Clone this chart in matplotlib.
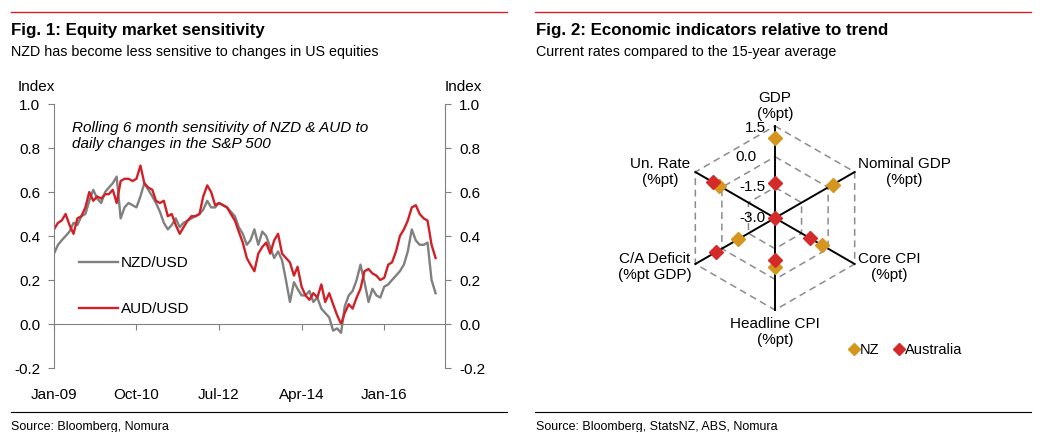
import numpy as np
import pandas as pd
import matplotlib
matplotlib.use("Agg")
import matplotlib.pyplot as plt
import matplotlib.dates as mdates
from matplotlib.lines import Line2D

plt.rcParams['font.family'] = ['Liberation Sans', 'DejaVu Sans']

# ---------------- data ----------------
start_month = '2009-01-01'
nzd_usd = [0.32, 0.36, 0.38, 0.40, 0.42, 0.46, 0.45, 0.49, 0.50, 0.56,
           0.61, 0.57, 0.55, 0.60, 0.62, 0.64, 0.67, 0.48, 0.53, 0.55,
           0.54, 0.53, 0.58, 0.64, 0.61, 0.58, 0.55, 0.51, 0.46, 0.43,
           0.45, 0.48, 0.44, 0.46, 0.47, 0.48, 0.49, 0.50, 0.52, 0.56,
           0.53, 0.53, 0.55, 0.54, 0.53, 0.51, 0.49, 0.44, 0.41, 0.36,
           0.38, 0.43, 0.36, 0.42, 0.40, 0.35, 0.30, 0.33, 0.29, 0.20,
           0.10, 0.19, 0.16, 0.13, 0.13, 0.15, 0.10, 0.12, 0.07, 0.05,
           0.03, -0.03, -0.02, -0.04, 0.08, 0.13, 0.15, 0.20, 0.27, 0.19,
           0.10, 0.16, 0.13, 0.12, 0.17, 0.18, 0.20, 0.22, 0.24, 0.27,
           0.33, 0.43, 0.38, 0.36, 0.36, 0.37, 0.20, 0.14]
aud_usd = [0.43, 0.46, 0.47, 0.50, 0.45, 0.41, 0.48, 0.49, 0.53, 0.60,
           0.56, 0.58, 0.57, 0.59, 0.59, 0.61, 0.55, 0.65, 0.66, 0.66,
           0.65, 0.66, 0.72, 0.64, 0.62, 0.61, 0.56, 0.55, 0.56, 0.49,
           0.50, 0.45, 0.41, 0.44, 0.47, 0.49, 0.49, 0.50, 0.58, 0.63,
           0.60, 0.54, 0.55, 0.54, 0.53, 0.50, 0.47, 0.42, 0.37, 0.30,
           0.27, 0.24, 0.32, 0.35, 0.37, 0.32, 0.38, 0.41, 0.32, 0.30,
           0.28, 0.22, 0.26, 0.17, 0.13, 0.11, 0.14, 0.12, 0.18, 0.10,
           0.14, 0.09, 0.04, 0.00, 0.05, 0.09, 0.07, 0.12, 0.16, 0.24,
           0.25, 0.23, 0.22, 0.20, 0.21, 0.27, 0.28, 0.33, 0.40, 0.43,
           0.47, 0.53, 0.54, 0.50, 0.48, 0.47, 0.36, 0.30]
xtick_dates = ['2009-01-01', '2010-10-01', '2012-07-01', '2014-04-01', '2016-01-01']
yticks_left = [-0.2, 0.0, 0.2, 0.4, 0.6, 0.8, 1.0]

radar_axes = ['GDP\n(%pt)', 'Nominal GDP\n(%pt)', 'Core CPI\n(%pt)',
              'Headline CPI\n(%pt)', 'C/A Deficit\n(%pt GDP)', 'Un. Rate\n(%pt)']
radar_nz = [0.9, 0.25, -0.35, -0.6, -0.9, 0.15]
radar_au = [-1.3, -3.0, -1.05, -0.95, 0.35, 0.5]
radar_ticks = [-3.0, -1.5, 0.0, 1.5]

# ---------------- style ----------------
W, H = 1047, 432
RED = '#d22027'
GREY = '#808080'
GOLD = '#d4961e'
AURED = '#d42a2a'


def fx(x):
    return x / W


def fy(y):
    return 1 - y / H


fig = plt.figure(figsize=(W / 100, H / 100), dpi=100)

# top red rules and bottom black rules
for x0, x1 in [(11, 507), (535, 1031)]:
    fig.add_artist(Line2D([fx(x0), fx(x1)], [fy(12), fy(12)], color=RED, lw=1.0))
    fig.add_artist(Line2D([fx(x0), fx(x1)], [fy(412), fy(412)], color='black', lw=0.8))

# titles
fig.text(fx(11), fy(30), 'Fig. 1: Equity market sensitivity', fontsize=12.2,
         fontweight='bold', va='center', ha='left')
fig.text(fx(11), fy(52), 'NZD has become less sensitive to changes in US equities',
         fontsize=10.3, va='center', ha='left')
fig.text(fx(536), fy(30), 'Fig. 2: Economic indicators relative to trend', fontsize=12.2,
         fontweight='bold', va='center', ha='left')
fig.text(fx(536), fy(52), 'Current rates compared to the 15-year average',
         fontsize=10.3, va='center', ha='left')
fig.text(fx(11), fy(427), 'Source: Bloomberg, Nomura', fontsize=9, va='center', ha='left')
fig.text(fx(536), fy(427), 'Source: Bloomberg, StatsNZ, ABS, Nomura', fontsize=9,
         va='center', ha='left')

# ---------------- left chart ----------------
dates = pd.date_range(start_month, periods=len(nzd_usd), freq='MS')
ax = fig.add_axes([fx(54), fy(368), fx(445) - fx(54), fy(104) - fy(368)])
ax.plot(dates, nzd_usd, color=GREY, lw=1.7, label='NZD/USD')
ax.plot(dates, aud_usd, color=RED, lw=1.7, label='AUD/USD')
ax.set_ylim(-0.2, 1.0)
ax.set_xlim(pd.Timestamp('2009-01-01'), pd.Timestamp('2017-04-15'))
ax.set_yticks(yticks_left)
ax.set_yticklabels([f'{v:.1f}' for v in yticks_left])
ax.set_xticks(pd.to_datetime(xtick_dates))
ax.xaxis.set_major_formatter(mdates.DateFormatter('%b-%y'))
for s in ['top', 'right']:
    ax.spines[s].set_visible(False)
ax.spines['left'].set_color(GREY)
ax.spines['bottom'].set_color(GREY)
ax.spines['bottom'].set_position(('data', 0))
ax.tick_params(axis='y', direction='out', length=4, color=GREY, labelsize=11, pad=6)
ax.tick_params(axis='x', direction='out', length=4, color=GREY, labelsize=11, pad=42)
ax.patch.set_visible(False)

axr = ax.twinx()
axr.set_ylim(-0.2, 1.0)
axr.set_yticks(yticks_left)
axr.set_yticklabels([f'{v:.1f}' for v in yticks_left])
for s in ['top', 'left', 'bottom']:
    axr.spines[s].set_visible(False)
axr.spines['right'].set_color(GREY)
axr.tick_params(axis='y', direction='out', length=4, color=GREY, labelsize=11, pad=6)

fig.text(fx(36), fy(87), 'Index', fontsize=11, ha='center', va='center')
fig.text(fx(463), fy(87), 'Index', fontsize=11, ha='center', va='center')

ax.text(0.047, 0.935, 'Rolling 6 month sensitivity of NZD & AUD to\ndaily changes in the S&P 500',
        transform=ax.transAxes, fontsize=11, fontstyle='italic', va='top', ha='left',
        linespacing=1.15)

leg = ax.legend(loc='upper left', bbox_to_anchor=(0.063, 0.423), frameon=False,
                fontsize=11, handlelength=2.6, handletextpad=0.15, labelspacing=2.1,
                borderaxespad=0, borderpad=0)

# ---------------- radar chart ----------------
cx, cy, R = 775, 218, 92
rax = fig.add_axes([fx(cx - R), fy(cy + R), fx(2 * R), (2 * R) / H], projection='polar')
rax.set_theta_zero_location('N')
rax.set_theta_direction(-1)
rax.set_ylim(radar_ticks[0], radar_ticks[-1])
rax.grid(False)
rax.set_xticks([])
rax.set_yticks([])
rax.spines['polar'].set_visible(False)
rax.patch.set_visible(False)

n = len(radar_axes)
theta = np.arange(n) * 2 * np.pi / n
theta_closed = np.append(theta, theta[0])

for r in radar_ticks[1:]:
    rax.plot(theta_closed, [r] * (n + 1), color='#8c8c8c', lw=1.1, ls=(0, (4.5, 3)),
             zorder=1, clip_on=False)
for t in theta:
    rax.plot([t, t], [radar_ticks[0], radar_ticks[-1]], color='black', lw=1.4, zorder=2,
             clip_on=False)

rax.plot(theta, radar_nz, ls='none', marker='D', ms=7.5, color=GOLD, zorder=3,
         clip_on=False, label='NZ')
rax.plot(theta, radar_au, ls='none', marker='D', ms=7.5, color=AURED, zorder=4,
         clip_on=False, label='Australia')

# axis labels
label_style = [
    dict(ha='center', va='bottom', off=(0, 5)),
    dict(ha='left', va='center', off=(3, 0)),
    dict(ha='left', va='center', off=(3, -3)),
    dict(ha='center', va='top', off=(0, -7)),
    dict(ha='right', va='center', off=(-4, -3)),
    dict(ha='right', va='center', off=(-5, 0)),
]
for t, lab, st in zip(theta, radar_axes, label_style):
    rax.annotate(lab, xy=(t, radar_ticks[-1]), xytext=st['off'], textcoords='offset pixels',
                 ha=st['ha'], va=st['va'], multialignment='center', fontsize=11,
                 linespacing=1.15, annotation_clip=False)

tick_offsets = [(-10, 0), (-10, 0), (-18, 0), (-9, -2)]
for r, off in zip(radar_ticks, tick_offsets):
    rax.annotate(f'{r:.1f}', xy=(0, r), xytext=off, textcoords='offset pixels',
                 ha='right', va='center', fontsize=11, annotation_clip=False)

rleg = fig.legend(handles=rax.get_lines()[-2:], loc='center left',
                  bbox_to_anchor=(fx(850), fy(350)), frameon=False, fontsize=10.5,
                  ncol=2, handlelength=0.6, handletextpad=0.1, columnspacing=1.0,
                  markerscale=0.75, borderaxespad=0, borderpad=0)

fig.savefig('out.png', dpi=100)
